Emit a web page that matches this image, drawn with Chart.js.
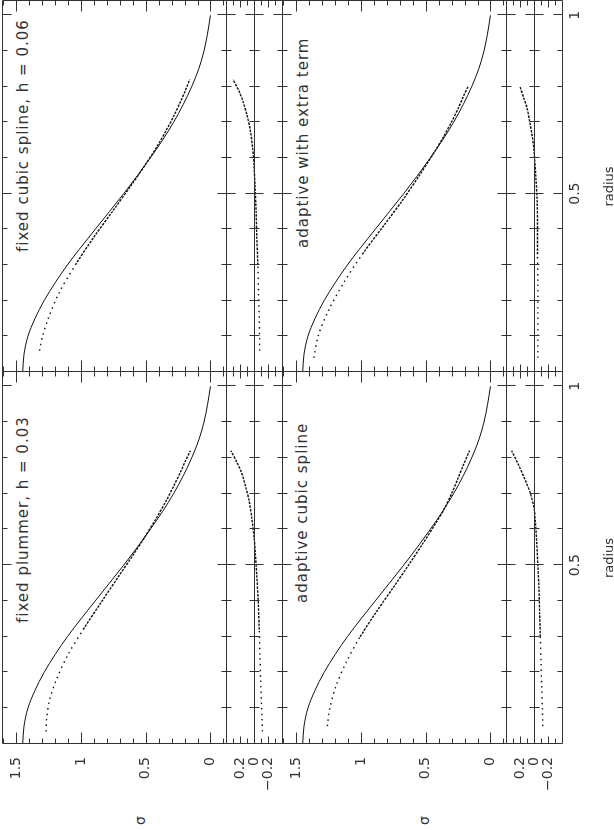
<!DOCTYPE html>
<html>
<head>
<meta charset="UTF-8">
<title>sigma vs radius</title>
<script src="https://cdn.jsdelivr.net/npm/chart.js"></script>
<style>
    html, body { margin: 0; padding: 0; overflow: hidden; background: #fff; }
    /* the figure is laid out landscape, then turned a quarter turn */
    #fig {
        position: absolute; left: 0; top: 0;
        width: 830px; height: 614px;
        transform-origin: 0 0;
        transform: translateY(830px) rotate(-90deg);
    }
    #fig canvas { position: absolute; }
    .note {
        position: absolute; white-space: nowrap;
        font: 15px "DejaVu Sans", sans-serif; line-height: 15px;
        letter-spacing: 1px; color: #333;
    }
    .sig {
        position: absolute;
        font: 14px "DejaVu Sans", sans-serif; line-height: 14px; color: #333;
    }
</style>
</head>
<body>
<div id="fig">
    <div class="note" style="left:207px; top:16px">fixed plummer, h = 0.03</div>
    <div class="note" style="left:578px; top:16px">fixed cubic spline, h = 0.06</div>
    <div class="note" style="left:227px; top:295px">adaptive cubic spline</div>
    <div class="note" style="left:582px; top:296px">adaptive with extra term</div>
    <div class="sig" style="left:5px; top:133px">σ</div>
    <div class="sig" style="left:5px; top:417px">σ</div>
</div>

<script>
    // model curve, the same solid line in every panel
    const modelRadius = [0, 0.05, 0.10, 0.15, 0.20, 0.25, 0.30, 0.35, 0.40, 0.45, 0.50,
                         0.55, 0.60, 0.65, 0.70, 0.75, 0.80, 0.85, 0.90, 0.95, 1.00];
    const modelSigma = [1.45, 1.44, 1.41, 1.355, 1.285, 1.20, 1.105, 1.00, 0.89, 0.78, 0.67,
                        0.565, 0.465, 0.37, 0.285, 0.21, 0.145, 0.09, 0.05, 0.022, 0.0];

    // fixed plummer, h = 0.03
    const plummerRadius = [0.035, 0.07, 0.12, 0.18, 0.25, 0.32, 0.40, 0.47, 0.53, 0.58, 0.63, 0.68, 0.72, 0.76, 0.79, 0.82];
    const plummerSigma = [1.27, 1.265, 1.245, 1.19, 1.10, 0.983, 0.837, 0.707, 0.595, 0.505, 0.42, 0.342, 0.286, 0.232, 0.195, 0.155];
    const plummerResidual = [-0.12, -0.115, -0.105, -0.095, -0.085, -0.075, -0.06, -0.04, -0.02, 0.0, 0.03, 0.07, 0.12, 0.18, 0.25, 0.33];

    // fixed cubic spline, h = 0.06
    const splineRadius = [0.06, 0.10, 0.15, 0.22, 0.30, 0.38, 0.45, 0.52, 0.58, 0.63, 0.68, 0.72, 0.76, 0.79, 0.82];
    const splineSigma = [1.32, 1.297, 1.253, 1.172, 1.044, 0.897, 0.757, 0.619, 0.505, 0.416, 0.338, 0.28, 0.228, 0.193, 0.16];
    const splineResidual = [-0.08, -0.08, -0.075, -0.065, -0.055, -0.04, -0.03, -0.015, 0.0, 0.02, 0.055, 0.10, 0.16, 0.22, 0.30];

    // adaptive cubic spline
    const adaptiveRadius = [0.05, 0.10, 0.16, 0.23, 0.30, 0.37, 0.44, 0.50, 0.56, 0.62, 0.66, 0.70, 0.74, 0.78, 0.82];
    const adaptiveSigma = [1.26, 1.241, 1.195, 1.112, 1.006, 0.88, 0.746, 0.633, 0.523, 0.418, 0.353, 0.30, 0.254, 0.209, 0.162];
    const adaptiveResidual = [-0.125, -0.12, -0.11, -0.10, -0.09, -0.08, -0.07, -0.055, -0.04, -0.02, 0.0, 0.05, 0.13, 0.22, 0.32];

    // adaptive with extra term
    const extraRadius = [0.04, 0.10, 0.17, 0.25, 0.33, 0.41, 0.48, 0.55, 0.62, 0.66, 0.70, 0.74, 0.77, 0.80];
    const extraSigma = [1.363, 1.332, 1.254, 1.134, 0.99, 0.825, 0.682, 0.551, 0.427, 0.362, 0.302, 0.248, 0.212, 0.174];
    const extraResidual = [-0.055, -0.055, -0.055, -0.055, -0.05, -0.05, -0.045, -0.025, 0.0, 0.025, 0.06, 0.10, 0.15, 0.20];

    const sigmaTicks = [0, 0.5, 1, 1.5];
    const sigmaTickLabels = ['0', '0.5', '1', '1.5'];
    const residualTicks = [-0.2, 0, 0.2];
    const residualTickLabels = ['\u22120.2', '0', '0.2'];
    const radiusTicks = [0.5, 1];
    const radiusTickLabels = ['0.5', '1'];

    const sigmaRange = [-0.12, 1.61];
    const residualRange = [-0.4, 0.4];
    const radiusRange = [0, 1.04];

    const FONT = '"DejaVu Sans", sans-serif';

    function pts(xs, ys) {
        return xs.map((x, i) => ({ x: x, y: ys[i] }));
    }

    // frame with inward ticks on every side, the zero line of the residual
    // panels, and the tick labels placed from the chart's own scales
    const framePlugin = {
        id: 'frame',
        afterDatasetsDraw(chart, args, opts) {
            const { ctx, chartArea: a } = chart;
            const x = chart.scales.x, y = chart.scales.y;
            const snap = v => Math.round(v) + 0.5;
            const L = snap(a.left), R = snap(a.right), T = snap(a.top), B = snap(a.bottom);
            ctx.save();
            ctx.strokeStyle = '#333';
            ctx.lineWidth = 1;
            ctx.beginPath();
            ctx.rect(L, T, R - L, B - T);

            const zero = opts.residual ? snap(y.getPixelForValue(0)) : null;
            if (zero !== null) {
                ctx.moveTo(L, zero);
                ctx.lineTo(R, zero);
            }
            for (let i = 1; i <= 10; i++) {
                const len = i % 5 === 0 ? 9 : 5;
                const px = snap(x.getPixelForValue(i / 10));
                ctx.moveTo(px, B); ctx.lineTo(px, B - len);
                ctx.moveTo(px, T); ctx.lineTo(px, T + len);
                if (zero !== null) {
                    ctx.moveTo(px, zero - len); ctx.lineTo(px, zero + len);
                }
            }

            const lo = Math.ceil(y.min * 10 + 1e-6), hi = Math.floor(y.max * 10 - 1e-6);
            for (let i = lo; i <= hi; i++) {
                const major = opts.residual ? i % 2 === 0 : i % 5 === 0;
                const len = major ? (opts.residual ? 7 : 11) : 5;
                const py = snap(y.getPixelForValue(i / 10));
                ctx.moveTo(L, py); ctx.lineTo(L + len, py);
                ctx.moveTo(R, py); ctx.lineTo(R - len, py);
            }
            ctx.stroke();

            ctx.fillStyle = '#333';
            ctx.font = '14px ' + FONT;
            if (opts.showY) {
                ctx.textAlign = 'right';
                ctx.textBaseline = 'middle';
                opts.yTicks.forEach((v, i) => {
                    ctx.fillText(opts.yLabels[i], a.left - 13, y.getPixelForValue(v));
                });
            }
            if (opts.showX) {
                ctx.textAlign = 'center';
                ctx.textBaseline = 'alphabetic';
                radiusTicks.forEach((v, i) => {
                    ctx.fillText(radiusTickLabels[i], x.getPixelForValue(v), a.bottom + 17);
                });
                ctx.font = '13px ' + FONT;
                ctx.fillText('radius', (a.left + a.right) / 2, a.bottom + 51);
            }
            ctx.restore();
        }
    };

    const columns = {
        left: { x0: 86, x1: 458 },
        right: { x0: 458, x1: 829 }
    };
    const rows = {
        big1: { y0: 2, y1: 226 },
        res1: { y0: 226, y1: 282 },
        big2: { y0: 282, y1: 506 },
        res2: { y0: 506, y1: 562 }
    };

    function makePanel(col, row, datasets, residual) {
        const c = columns[col], r = rows[row];
        const left = col === 'left' ? 0 : c.x0 - 4;
        const top = r.y0 - 4;
        const bottom = row === 'res2' ? 614 : r.y1 + 4;
        const width = c.x1 + 4 - left;
        const height = bottom - top;

        const canvas = document.createElement('canvas');
        canvas.width = width;
        canvas.height = height;
        canvas.style.left = left + 'px';
        canvas.style.top = top + 'px';
        canvas.style.width = width + 'px';
        canvas.style.height = height + 'px';
        document.getElementById('fig').appendChild(canvas);

        const yRange = residual ? residualRange : sigmaRange;

        new Chart(canvas, {
            type: 'scatter',
            data: { datasets: datasets },
            options: {
                responsive: false,
                animation: false,
                devicePixelRatio: 1,
                layout: {
                    autoPadding: false,
                    padding: { left: c.x0 - left, top: 4, right: 4, bottom: bottom - r.y1 }
                },
                plugins: {
                    legend: { display: false },
                    tooltip: { enabled: false },
                    frame: {
                        residual: residual,
                        showY: col === 'left',
                        showX: row === 'res2',
                        yTicks: residual ? residualTicks : sigmaTicks,
                        yLabels: residual ? residualTickLabels : sigmaTickLabels
                    }
                },
                scales: {
                    x: { type: 'linear', display: false, min: radiusRange[0], max: radiusRange[1] },
                    y: { type: 'linear', display: false, min: yRange[0], max: yRange[1] }
                }
            },
            plugins: [framePlugin]
        });
    }

    function modelSet() {
        return {
            data: pts(modelRadius, modelSigma),
            showLine: true,
            borderColor: '#111',
            borderWidth: 1,
            pointRadius: 0,
            cubicInterpolationMode: 'monotone'
        };
    }

    function particleSet(xs, ys) {
        return {
            data: pts(xs, ys),
            showLine: true,
            borderColor: '#111',
            borderWidth: 1.4,
            pointRadius: 0,
            tension: 0.3,
            segment: {
                borderDash: s => s.p0.parsed.x < 0.3 ? [1.5, 4] : [2.5, 1.2]
            }
        };
    }

    makePanel('left', 'big1', [modelSet(), particleSet(plummerRadius, plummerSigma)], false);
    makePanel('left', 'res1', [particleSet(plummerRadius, plummerResidual)], true);
    makePanel('right', 'big1', [modelSet(), particleSet(splineRadius, splineSigma)], false);
    makePanel('right', 'res1', [particleSet(splineRadius, splineResidual)], true);
    makePanel('left', 'big2', [modelSet(), particleSet(adaptiveRadius, adaptiveSigma)], false);
    makePanel('left', 'res2', [particleSet(adaptiveRadius, adaptiveResidual)], true);
    makePanel('right', 'big2', [modelSet(), particleSet(extraRadius, extraSigma)], false);
    makePanel('right', 'res2', [particleSet(extraRadius, extraResidual)], true);
</script>
</body>
</html>
